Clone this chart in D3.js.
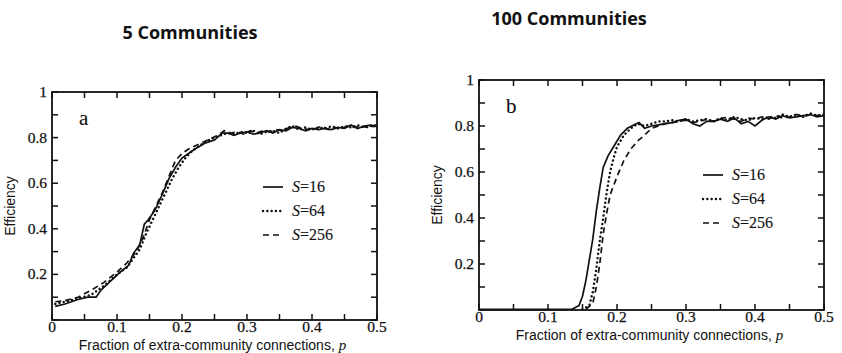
<!DOCTYPE html>
<html>
<head>
<meta charset="utf-8">
<title>Efficiency vs extra-community connections</title>
<script src="https://d3js.org/d3.v7.min.js"></script>
<style>
  body { margin: 0; background: #fff; }
  svg text { fill: #111; }
  .tick-label { font-family: "Liberation Serif", "Times New Roman", serif; font-size: 15.5px; stroke: #111; stroke-width: 0.25px; }
  .axis-title { font-family: "Liberation Sans", Arial, sans-serif; font-size: 14px; }
  .panel-title { font-family: "Open Sans", sans-serif; font-weight: bold; font-size: 18px; }
</style>
</head>
<body>
<div id="chart"></div>
<script>
// ---- data ----
const xTicks = [0, 0.1, 0.2, 0.3, 0.4, 0.5];
const yTicks = [0.2, 0.4, 0.6, 0.8, 1];
const seriesNames = ["S=16", "S=64", "S=256"];

// panel a : 5 communities
const a16 = [[0.005,0.06],[0.02,0.07],[0.04,0.09],[0.055,0.10],[0.068,0.10],[0.075,0.13],[0.09,0.17],[0.105,0.21],[0.118,0.24],[0.125,0.29],[0.135,0.33],[0.142,0.42],[0.148,0.44],[0.158,0.48],[0.168,0.54],[0.18,0.62],[0.19,0.67],[0.2,0.71],[0.21,0.73],[0.22,0.75],[0.235,0.775],[0.25,0.79],[0.262,0.82],[0.27,0.82],[0.28,0.81],[0.29,0.82],[0.3,0.825],[0.31,0.815],[0.32,0.82],[0.33,0.83],[0.34,0.82],[0.35,0.835],[0.36,0.83],[0.37,0.845],[0.38,0.84],[0.39,0.83],[0.4,0.84],[0.41,0.835],[0.42,0.84],[0.43,0.835],[0.44,0.845],[0.45,0.84],[0.46,0.855],[0.47,0.84],[0.48,0.85],[0.49,0.855],[0.5,0.85]];
const a64 = [[0.005,0.07],[0.02,0.08],[0.04,0.095],[0.06,0.11],[0.08,0.15],[0.1,0.2],[0.115,0.23],[0.125,0.27],[0.135,0.31],[0.145,0.38],[0.155,0.44],[0.165,0.5],[0.175,0.56],[0.185,0.62],[0.195,0.67],[0.205,0.71],[0.215,0.74],[0.23,0.77],[0.245,0.795],[0.26,0.81],[0.27,0.82],[0.28,0.815],[0.29,0.825],[0.3,0.82],[0.31,0.83],[0.32,0.815],[0.33,0.825],[0.34,0.83],[0.35,0.82],[0.36,0.84],[0.37,0.85],[0.38,0.835],[0.39,0.845],[0.4,0.835],[0.41,0.845],[0.42,0.84],[0.43,0.85],[0.44,0.84],[0.45,0.85],[0.46,0.845],[0.47,0.855],[0.48,0.845],[0.49,0.85],[0.5,0.855]];
const a256 = [[0.005,0.08],[0.02,0.085],[0.04,0.1],[0.06,0.13],[0.08,0.165],[0.1,0.21],[0.115,0.25],[0.13,0.3],[0.14,0.36],[0.15,0.44],[0.16,0.5],[0.17,0.56],[0.18,0.63],[0.19,0.7],[0.2,0.73],[0.21,0.75],[0.225,0.77],[0.24,0.79],[0.255,0.81],[0.265,0.83],[0.275,0.82],[0.285,0.825],[0.295,0.815],[0.305,0.83],[0.315,0.82],[0.325,0.83],[0.335,0.825],[0.345,0.835],[0.355,0.83],[0.365,0.845],[0.375,0.85],[0.385,0.84],[0.395,0.835],[0.405,0.84],[0.415,0.85],[0.425,0.835],[0.435,0.845],[0.445,0.84],[0.455,0.85],[0.465,0.845],[0.475,0.85],[0.485,0.845],[0.5,0.85]];

// panel b : 100 communities
const b16 = [[0,0.003],[0.1,0.003],[0.135,0.003],[0.145,0.02],[0.15,0.06],[0.155,0.13],[0.16,0.22],[0.165,0.31],[0.17,0.43],[0.175,0.53],[0.18,0.62],[0.187,0.67],[0.195,0.71],[0.205,0.76],[0.215,0.79],[0.225,0.805],[0.232,0.815],[0.24,0.79],[0.25,0.8],[0.26,0.805],[0.27,0.81],[0.28,0.815],[0.29,0.825],[0.3,0.83],[0.31,0.81],[0.32,0.8],[0.33,0.82],[0.34,0.82],[0.35,0.83],[0.36,0.82],[0.37,0.835],[0.38,0.81],[0.39,0.82],[0.4,0.8],[0.41,0.825],[0.42,0.84],[0.43,0.83],[0.44,0.845],[0.45,0.835],[0.46,0.84],[0.47,0.845],[0.48,0.85],[0.49,0.84],[0.5,0.845]];
const b64 = [[0.15,0.003],[0.16,0.02],[0.165,0.08],[0.17,0.18],[0.175,0.3],[0.18,0.4],[0.185,0.51],[0.19,0.6],[0.195,0.66],[0.2,0.71],[0.21,0.76],[0.22,0.79],[0.23,0.81],[0.24,0.8],[0.25,0.81],[0.26,0.82],[0.27,0.82],[0.28,0.825],[0.29,0.82],[0.3,0.83],[0.31,0.82],[0.32,0.825],[0.33,0.83],[0.34,0.82],[0.35,0.835],[0.36,0.825],[0.37,0.84],[0.38,0.83],[0.39,0.825],[0.4,0.835],[0.41,0.83],[0.42,0.84],[0.43,0.835],[0.44,0.85],[0.45,0.84],[0.46,0.85],[0.47,0.84],[0.48,0.855],[0.49,0.845],[0.5,0.85]];
const b256 = [[0.155,0.003],[0.165,0.03],[0.17,0.1],[0.175,0.2],[0.18,0.33],[0.185,0.42],[0.19,0.5],[0.2,0.58],[0.21,0.65],[0.22,0.7],[0.23,0.735],[0.24,0.76],[0.25,0.79],[0.26,0.8],[0.27,0.81],[0.28,0.815],[0.29,0.82],[0.3,0.825],[0.31,0.815],[0.32,0.82],[0.33,0.83],[0.34,0.82],[0.35,0.83],[0.36,0.84],[0.37,0.83],[0.38,0.82],[0.39,0.835],[0.4,0.83],[0.41,0.84],[0.42,0.83],[0.43,0.845],[0.44,0.835],[0.45,0.84],[0.46,0.85],[0.47,0.84],[0.48,0.85],[0.49,0.845],[0.5,0.85]];

const dashes = [null, "0.1,4.2", "6,4"];

const svg = d3.select("#chart").append("svg")
  .attr("width", 842).attr("height", 353);

function panel(cfg) {
  const x = d3.scaleLinear().domain([0, 0.5]).range([cfg.left, cfg.right]);
  const y = d3.scaleLinear().domain([0, 1]).range([cfg.bottom, cfg.top]);
  const g = svg.append("g");

  // frame
  g.append("rect")
    .attr("x", cfg.left).attr("y", cfg.top)
    .attr("width", cfg.right - cfg.left).attr("height", cfg.bottom - cfg.top)
    .attr("fill", "none").attr("stroke", "#111").attr("stroke-width", 1.8);

  // inward ticks on all sides
  const tl = 6;
  d3.range(0, 0.5001, 0.05).forEach(v => {
    g.append("line").attr("x1", x(v)).attr("x2", x(v)).attr("y1", cfg.bottom).attr("y2", cfg.bottom - tl)
      .attr("stroke", "#111").attr("stroke-width", 1.5);
    g.append("line").attr("x1", x(v)).attr("x2", x(v)).attr("y1", cfg.top).attr("y2", cfg.top + tl)
      .attr("stroke", "#111").attr("stroke-width", 1.5);
  });
  d3.range(0, 1.0001, 0.1).forEach(v => {
    g.append("line").attr("x1", cfg.left).attr("x2", cfg.left + tl).attr("y1", y(v)).attr("y2", y(v))
      .attr("stroke", "#111").attr("stroke-width", 1.5);
    g.append("line").attr("x1", cfg.right).attr("x2", cfg.right - tl).attr("y1", y(v)).attr("y2", y(v))
      .attr("stroke", "#111").attr("stroke-width", 1.5);
  });

  // tick labels
  g.selectAll(".xl").data(xTicks).enter().append("text")
    .attr("class", "tick-label")
    .attr("x", d => x(d)).attr("y", cfg.bottom + 12)
    .attr("text-anchor", "middle")
    .text(d => d === 0 ? "0" : d3.format(".1f")(d));
  g.selectAll(".yl").data(yTicks).enter().append("text")
    .attr("class", "tick-label")
    .attr("x", cfg.left - 5).attr("y", d => y(d) + 5)
    .attr("text-anchor", "end")
    .text(d => d === 1 ? "1" : d3.format(".1f")(d));

  // axis titles
  g.append("text").attr("class", "axis-title")
    .attr("x", (cfg.left + cfg.right) / 2 - 2).attr("y", cfg.bottom + 30)
    .attr("text-anchor", "middle")
    .html('Fraction of extra-community connections, <tspan font-family="Liberation Serif" font-style="italic" font-size="15">p</tspan>');
  g.append("text").attr("class", "axis-title")
    .attr("transform", `translate(${cfg.left - 37},${(cfg.top + cfg.bottom) / 2}) rotate(-90)`)
    .attr("text-anchor", "middle")
    .text("Efficiency");

  // panel letter
  g.append("text").attr("class", "tick-label").style("font-size", "21px").style("stroke-width", "0.1px")
    .attr("x", cfg.left + 27).attr("y", cfg.top + 33).text(cfg.letter);

  // curves
  const line = d3.line().x(d => x(d[0])).y(d => y(d[1]));
  cfg.series.forEach((s, i) => {
    g.append("path").datum(s)
      .attr("d", line)
      .attr("fill", "none").attr("stroke", "#111")
      .attr("stroke-width", i === 1 ? 2.4 : 1.7)
      .attr("stroke-dasharray", dashes[i])
      .attr("stroke-linecap", i === 1 ? "round" : "butt");
  });

  // legend
  seriesNames.forEach((name, i) => {
    const ly = cfg.legY + i * cfg.legStep;
    g.append("line")
      .attr("x1", cfg.legX).attr("x2", cfg.legX + 20)
      .attr("y1", ly).attr("y2", ly)
      .attr("stroke", "#111").attr("stroke-width", i === 1 ? 2.4 : 1.7)
      .attr("stroke-dasharray", dashes[i])
      .attr("stroke-linecap", i === 1 ? "round" : "butt");
    const parts = name.split("=");
    g.append("text").attr("class", "tick-label").style("font-size", "16px").style("stroke-width", "0.1px")
      .attr("x", cfg.legX + 29).attr("y", ly + 5)
      .html(`<tspan font-style="italic">${parts[0]}</tspan>=${parts[1]}`);
  });

  // title
  svg.append("text").attr("class", "panel-title")
    .attr("x", cfg.titleX).attr("y", cfg.titleY)
    .attr("text-anchor", "middle")
    .text(cfg.title);
}

panel({ left: 52, right: 377, top: 92, bottom: 320, letter: "a",
        series: [a16, a64, a256], legX: 263, legY: 187, legStep: 24,
        title: "5 Communities", titleX: 190, titleY: 39 });
panel({ left: 479, right: 824, top: 80, bottom: 310, letter: "b",
        series: [b16, b64, b256], legX: 703, legY: 175, legStep: 24,
        title: "100 Communities", titleX: 569, titleY: 25 });
</script>
</body>
</html>
